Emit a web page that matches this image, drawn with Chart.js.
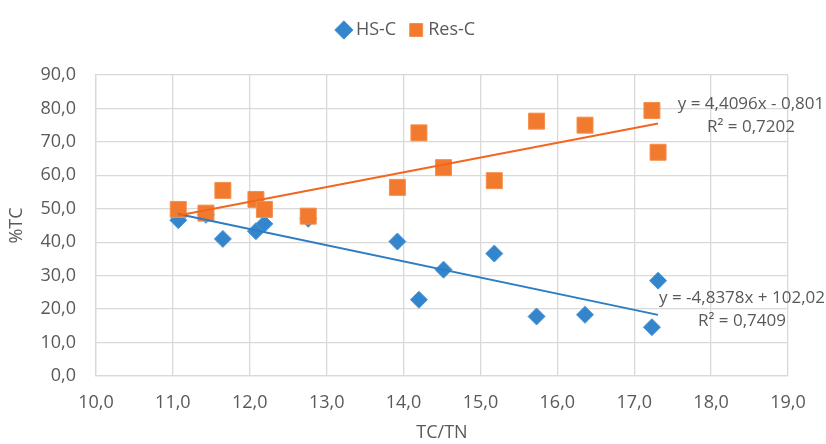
<!DOCTYPE html>
<html>
<head>
<meta charset="utf-8">
<script src="https://cdn.jsdelivr.net/npm/chart.js@4"></script>
<style>
  html, body { margin: 0; padding: 0; background: #ffffff; }
  #wrap { width: 826px; height: 444px; }
</style>
</head>
<body>
<div id="wrap"><canvas id="c" width="826" height="444"></canvas></div>
<script>
// ---- data ----
const tcTn   = [11.07, 11.43, 11.65, 12.08, 12.19, 12.76, 13.92, 14.20, 14.52, 15.18, 15.73, 16.36, 17.23, 17.31];
const hsC    = [46.6, 48.2, 41.0, 43.3, 45.5, 47.0, 40.2, 22.8, 31.8, 36.6, 17.8, 18.3, 14.6, 28.5];
const resC   = [49.8, 48.7, 55.5, 52.8, 49.8, 47.8, 56.4, 72.7, 62.3, 58.4, 76.2, 75.0, 79.4, 66.9];
const seriesNames = ['HS-C', 'Res-C'];
const hsFit  = [-4.8378, 102.02];   // slope, intercept
const resFit = [4.4096, -0.801];
const hsFitText  = ['y = -4,8378x + 102,02', 'R² = 0,7409'];
const resFitText = ['y = 4,4096x - 0,801', 'R² = 0,7202'];
const xTicks = [10, 11, 12, 13, 14, 15, 16, 17, 18, 19];
const yTicks = [0, 10, 20, 30, 40, 50, 60, 70, 80, 90];

const blue = '#3385CC', blueLine = '#2C7DC4';
const orange = '#F27A2F', orangeLine = '#F2661F';
const txt = '#595959';
const FONT = "'Open Sans', 'Liberation Sans', sans-serif";

const pts = (ys) => tcTn.map((x, i) => ({ x, y: ys[i] }));
const xMin = Math.min(...tcTn), xMax = Math.max(...tcTn);
const fitPts = (f) => [xMin, xMax].map(x => ({ x, y: f[0] * x + f[1] }));
const fmt = (v) => Number(v).toFixed(1).replace('.', ',');

const legendGap = {
  id: 'legendGap',
  afterInit(chart) {
    const lg = chart.legend;
    if (!lg) return;
    const origFit = lg.fit.bind(lg);
    lg.fit = function () { origFit(); this.height += 26; };
    const origDraw = lg.draw.bind(lg);
    lg.draw = function () {
      const ctx = chart.ctx;
      ctx.save();
      ctx.translate(14, 0);
      origDraw();
      ctx.restore();
    };
  }
};

const fitLabels = {
  id: 'fitLabels',
  afterDatasetsDraw(chart) {
    const { ctx, chartArea } = chart;
    ctx.save();
    ctx.fillStyle = txt;
    ctx.font = "17px " + FONT;
    ctx.textAlign = 'center';
    ctx.textBaseline = 'middle';
    const ox = chartArea.right;
    ctx.fillText(resFitText[0], ox - 37, 104);
    ctx.fillText(resFitText[1], ox - 37, 127);
    ctx.fillText(hsFitText[0], ox - 46, 298);
    ctx.fillText(hsFitText[1], ox - 46, 321);
    ctx.restore();
  }
};

new Chart(document.getElementById('c'), {
  type: 'scatter',
  data: {
    datasets: [
      { label: seriesNames[0], data: pts(hsC), order: 3,
        pointStyle: 'rectRot', pointRadius: 8.5, pointHoverRadius: 8.5,
        backgroundColor: blue, borderColor: '#4A94D6', borderWidth: 1 },
      { label: seriesNames[1], data: pts(resC), order: 2,
        pointStyle: 'rect', pointRadius: 11.3, pointHoverRadius: 11.3,
        backgroundColor: orange, borderColor: '#F58F4C', borderWidth: 1 },
      { label: 'fitHS', type: 'line', data: fitPts(hsFit), order: 1,
        borderColor: blueLine, borderWidth: 2, pointRadius: 0, fill: false },
      { label: 'fitRes', type: 'line', data: fitPts(resFit), order: 0,
        borderColor: orangeLine, borderWidth: 2, pointRadius: 0, fill: false }
    ]
  },
  options: {
    responsive: false,
    animation: false,
    devicePixelRatio: 1,
    layout: { padding: { left: 0, right: 38, top: 4, bottom: 0 } },
    plugins: {
      tooltip: { enabled: false },
      legend: {
        position: 'top',
        labels: {
          filter: (item) => item.datasetIndex < 2,
          sort: (a, b) => a.datasetIndex - b.datasetIndex,
          usePointStyle: true,
          boxWidth: 6, boxHeight: 13,
          padding: 17,
          color: txt,
          font: { family: FONT, size: 18 }
        }
      }
    },
    scales: {
      x: {
        type: 'linear', min: 10, max: 19,
        afterBuildTicks: (s) => { s.ticks = xTicks.map(v => ({ value: v })); },
        afterFit: (s) => { s.height = 68; },
        ticks: { color: txt, font: { family: FONT, size: 18 }, padding: 16, callback: fmt, maxRotation: 0 },
        grid: { color: '#D9D9D9', lineWidth: 1.3, drawTicks: false },
        border: { color: '#D9D9D9', width: 1.3 },
        title: { display: true, text: 'TC/TN', color: txt, font: { family: FONT, size: 18 }, padding: { top: 4, bottom: 0 } }
      },
      y: {
        min: 0, max: 90,
        afterBuildTicks: (s) => { s.ticks = yTicks.map(v => ({ value: v })); },
        afterFit: (s) => { s.width = 96; },
        ticks: { color: txt, font: { family: FONT, size: 18 }, padding: 20, callback: fmt },
        grid: { color: '#D9D9D9', lineWidth: 1.3, drawTicks: false },
        border: { color: '#D9D9D9', width: 1.3 },
        title: { display: true, text: '%TC', color: txt, font: { family: FONT, size: 18 }, padding: { top: 6, bottom: 4 } }
      }
    }
  },
  plugins: [legendGap, fitLabels]
});
</script>
</body>
</html>
